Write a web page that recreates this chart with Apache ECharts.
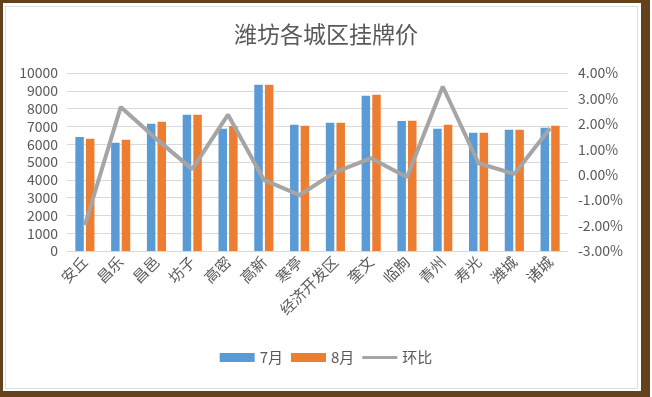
<!DOCTYPE html>
<html>
<head>
<meta charset="utf-8">
<script src="https://cdn.jsdelivr.net/npm/echarts@6/dist/echarts.min.js"></script>
<style>
    html, body { margin: 0; padding: 0; background: #fff; }
    .frame {
        position: absolute; left: 0; top: 0; width: 650px; height: 397px;
        box-sizing: border-box; border-style: solid; border-color: #62411c;
        border-width: 3px 9px 6px 3px;
    }
    .inner {
        position: absolute; left: 5px; top: 6px; width: 633px; height: 383px;
        box-sizing: border-box; border: 1px solid #d8e0e3;
    }
    #main { position: absolute; left: 0; top: 0; width: 652px; height: 397px; }
</style>
</head>
<body>
<div class="frame"></div>
<div class="inner"></div>
<div id="main"></div>

<script>
    // 城区
    var cities = ['安丘', '昌乐', '昌邑', '坊子', '高密', '高新', '寒亭', '经济开发区', '奎文', '临朐', '青州', '寿光', '潍城', '诸城'];
    // 7月挂牌价
    var july = [6410, 6080, 7150, 7650, 6870, 9340, 7090, 7200, 8720, 7310, 6870, 6640, 6810, 6920];
    // 8月挂牌价
    var august = [6300, 6250, 7260, 7650, 7020, 9340, 7030, 7200, 8780, 7320, 7090, 6640, 6810, 7030];
    // 环比 (%)
    var mom = [-1.98, 2.66, 1.4, 0.22, 2.36, -0.2, -0.8, 0.1, 0.65, -0.1, 3.47, 0.45, 0.03, 1.83];

    var labelColor = '#595959';
    var font = '"Noto Sans CJK SC", "Noto Sans", sans-serif';

    var chart = echarts.init(document.getElementById('main'));
    var option = {
        animation: false,
        color: ['#5b9bd5', '#ed7d31', '#a5a5a5'],
        textStyle: { fontFamily: font },
        title: {
            text: '潍坊各城区挂牌价',
            left: 'center',
            top: 18,
            textStyle: { fontSize: 23, fontWeight: 'normal', color: labelColor, fontFamily: font }
        },
        legend: {
            bottom: 27,
            left: 'center',
            itemWidth: 35,
            itemHeight: 9,
            itemGap: 8,
            textStyle: { fontSize: 15, color: labelColor },
            data: [
                { name: '7月', icon: 'rect' },
                { name: '8月', icon: 'rect' },
                // 图例用细线表示
                { name: '环比', icon: 'path://M0,0 L38,0 L38,3 L0,3 Z' }
            ]
        },
        grid: {
            left: 67,
            right: 84,
            top: 73,
            bottom: 146
        },
        xAxis: {
            type: 'category',
            data: cities,
            axisLine: { lineStyle: { color: '#d9d9d9' } },
            axisTick: { show: false },
            axisLabel: { rotate: 45, fontSize: 15, color: labelColor, margin: 8, interval: 0 }
        },
        yAxis: [
            {
                type: 'value',
                min: 0,
                max: 10000,
                interval: 1000,
                axisLine: { show: false },
                axisTick: { show: false },
                axisLabel: {
                    fontSize: 14,
                    color: labelColor,
                    margin: 9,
                    formatter: function (v) { return String(v); }
                },
                splitLine: { lineStyle: { color: '#d9d9d9' } }
            },
            {
                type: 'value',
                min: -3,
                max: 4,
                interval: 1,
                axisLine: { show: false },
                axisTick: { show: false },
                splitLine: { show: false },
                axisLabel: {
                    fontSize: 14,
                    color: labelColor,
                    margin: 10,
                    formatter: function (v) { return v.toFixed(2) + '%'; }
                }
            }
        ],
        series: [
            {
                name: '7月',
                type: 'bar',
                barWidth: 8.5,
                barGap: '25%',
                data: july
            },
            {
                name: '8月',
                type: 'bar',
                barWidth: 8.5,
                barGap: '25%',
                data: august
            },
            {
                name: '环比',
                type: 'line',
                yAxisIndex: 1,
                symbol: 'none',
                z: 5,
                itemStyle: { color: '#a5a5a5' },
                lineStyle: { width: 4, color: '#a5a5a5' },
                data: mom
            }
        ]
    };
    chart.setOption(option, true);
</script>
</body>
</html>
